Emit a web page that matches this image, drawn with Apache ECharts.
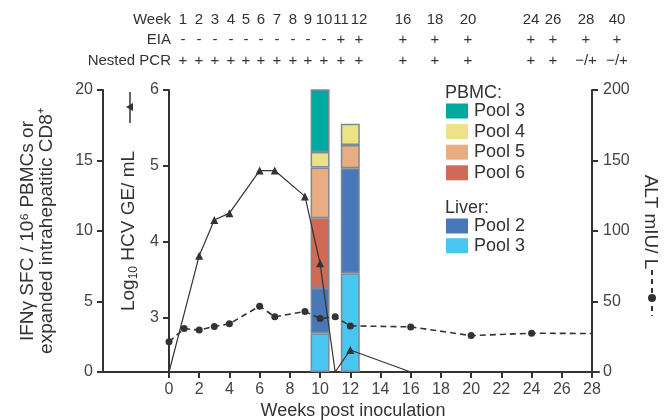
<!DOCTYPE html>
<html>
<head>
<meta charset="utf-8">
<script src="https://cdn.jsdelivr.net/npm/echarts@6/dist/echarts.min.js"></script>
<style>
  html, body { margin: 0; padding: 0; background: #fff; }
  #chart { width: 670px; height: 420px; }
</style>
</head>
<body>
<div id="chart"></div>
<script>
// table above the plot
const tableWeeks = ['1', '2', '3', '4', '5', '6', '7', '8', '9', '10', '11', '12', '16', '18', '20', '24', '26', '28', '40'];
const eiaResults = ['-', '-', '-', '-', '-', '-', '-', '-', '-', '-', '+', '+', '+', '+', '+', '+', '+', '+', '+'];
const pcrResults = ['+', '+', '+', '+', '+', '+', '+', '+', '+', '+', '+', '+', '+', '+', '+', '+', '+', '\u2212/+', '\u2212/+'];

// x axis: weeks 0..28
const weekCategories = ['0', '1', '2', '3', '4', '5', '6', '7', '8', '9', '10', '11', '12', '13', '14',
  '15', '16', '17', '18', '19', '20', '21', '22', '23', '24', '25', '26', '27', '28'];

// HCV RNA, log10 GE/mL (2.29 = axis floor, below detection)
const hcvFloor = 2.29;
const hcvWeeks = ['0', '2', '3', '4', '6', '7', '9', '10', '11', '12', '16'];
const hcvValues = [2.29, 3.82, 4.29, 4.38, 4.94, 4.94, 4.6, 3.72, 2.29, 2.58, 2.29];

// ALT mIU/L
const altWeeks = ['0', '1', '2', '3', '4', '6', '7', '9', '10', '11', '12', '16', '20', '24', '28'];
const altValues = [21.4, 30.8, 29.7, 32.3, 34.2, 46.7, 39.1, 42.9, 37.9, 39.1, 32.7, 32.0, 25.8, 27.5, 27.3];

// IFN-gamma SFC bars
const barWeeks = ['10', '12'];
const liverPool3 = [2.75, 7.0];
const liverPool2 = [3.2, 7.45];
const pbmcPool6 = [4.95, 0];
const pbmcPool5 = [3.6, 1.65];
const pbmcPool4 = [1.1, 1.5];
const pbmcPool3 = [4.6, 0];

// column positions of the table (layout only)
const colX = [183, 199, 215, 231, 246, 261, 277, 293, 308, 324, 341, 359, 403, 435, 468, 531, 553, 586, 617];

const FONT = '"Liberation Sans", Arial, sans-serif';
const DARK = '#333';
const LABEL = '#444';

const chart = echarts.init(document.getElementById('chart'));

const barSeries = [
  ['Liver Pool 3', liverPool3, '#48c6ef'],
  ['Liver Pool 2', liverPool2, '#4878b8'],
  ['PBMC Pool 6', pbmcPool6, '#cf6a57'],
  ['PBMC Pool 5', pbmcPool5, '#e8ad82'],
  ['PBMC Pool 4', pbmcPool4, '#ede287'],
  ['PBMC Pool 3', pbmcPool3, '#00a99d']
].map(([name, vals, color]) => ({
  name: name,
  type: 'bar',
  stack: 'sfc',
  xAxisIndex: 1,
  yAxisIndex: 3,
  barWidth: 19,
  z: 2,
  itemStyle: { color: color, borderColor: '#7d8a95', borderWidth: 1.5 },
  data: vals.map((v, i) => [barWeeks[i], v || null])
}));

// table texts
const tableText = [];
const rowY = [20, 40, 61];
['Week', 'EIA', 'Nested PCR'].forEach((t, r) => {
  tableText.push({
    type: 'text', x: 171, y: rowY[r],
    style: { text: t, fontSize: 15, fontFamily: FONT, fill: DARK, align: 'right', verticalAlign: 'middle' }
  });
});
[tableWeeks, eiaResults, pcrResults].forEach((row, r) => {
  row.forEach((t, i) => {
    tableText.push({
      type: 'text', x: colX[i], y: rowY[r],
      style: { text: t, fontSize: 15, fontFamily: FONT, fill: DARK, align: 'center', verticalAlign: 'middle' }
    });
  });
});

const axisLineStyle = { color: DARK, width: 2 };
const legendBase = {
  orient: 'vertical', left: 446, padding: 0,
  itemWidth: 22, itemHeight: 15, icon: 'rect',
  selectedMode: false,
  itemStyle: { borderWidth: 0 },
  formatter: n => n.replace(/^\S+ /, ''),
  textStyle: { fontSize: 18, lineHeight: 18, color: DARK, padding: [0, 0, 0, 1] }
};

const option = {
  animation: false,
  textStyle: { fontFamily: FONT },
  grid: [
    { left: 103, right: 71, top: 90, bottom: 48, outerBoundsMode: 'none' },
    { left: 169, right: 78, top: 90, bottom: 48, outerBoundsMode: 'none' }
  ],
  legend: [
    Object.assign({}, legendBase, {
      data: ['PBMC Pool 3', 'PBMC Pool 4', 'PBMC Pool 5', 'PBMC Pool 6'],
      top: 102, itemGap: 2.6
    }),
    Object.assign({}, legendBase, {
      data: ['Liver Pool 2', 'Liver Pool 3'],
      top: 217, itemGap: 1.7
    })
  ],
  xAxis: [
    {
      gridIndex: 0, type: 'value', min: 0, max: 1,
      axisLine: { onZero: false, lineStyle: axisLineStyle },
      axisTick: { show: false }, axisLabel: { show: false }, splitLine: { show: false },
      name: 'Weeks post inoculation', nameLocation: 'middle', nameGap: 30,
      nameTextStyle: { fontSize: 18, color: DARK, padding: [0, 0, 0, 4] }
    },
    {
      gridIndex: 1, type: 'category', data: weekCategories, boundaryGap: false,
      axisLine: { onZero: false, lineStyle: axisLineStyle },
      axisTick: { length: 6, interval: 1, lineStyle: { width: 2, color: DARK } },
      axisLabel: { margin: 10, interval: 1, fontSize: 16, color: LABEL },
      splitLine: { show: false }
    }
  ],
  yAxis: [
    {
      gridIndex: 0, type: 'value', min: 0, max: 20, interval: 5, position: 'left',
      axisLine: { show: true, onZero: false, lineStyle: axisLineStyle },
      axisTick: { show: true, length: 6, lineStyle: { width: 2, color: DARK } },
      axisLabel: { margin: 10, fontSize: 16, color: LABEL },
      splitLine: { show: false },
      name: 'IFN\u03b3 SFC / 10\u2076 PBMCs or\nexpanded intrahepatitic CD8\u207a',
      nameLocation: 'middle', nameGap: 47,
      nameTextStyle: { fontSize: 19, lineHeight: 19, color: DARK }
    },
    {
      gridIndex: 1, type: 'value', min: hcvFloor, max: 6, position: 'left',
      axisLine: { show: true, onZero: false, lineStyle: axisLineStyle },
      axisTick: { show: true, length: 6, lineStyle: { width: 2, color: DARK } },
      axisLabel: {
        margin: 10, fontSize: 16, color: LABEL,
        formatter: v => (Math.abs(v - Math.round(v)) < 1e-6 ? String(Math.round(v)) : '')
      },
      splitLine: { show: false },
      name: '{a|Log}{s|10}{a| HCV GE/ mL}',
      nameLocation: 'middle', nameGap: 27,
      nameTextStyle: {
        color: DARK,
        rich: {
          a: { fontSize: 19, color: DARK, fontFamily: FONT },
          s: { fontSize: 12, color: DARK, fontFamily: FONT, padding: [9, 0, 0, 0] }
        }
      }
    },
    {
      gridIndex: 1, type: 'value', min: 0, max: 200, interval: 50, position: 'right',
      axisLine: { show: true, onZero: false, lineStyle: axisLineStyle },
      axisTick: { show: true, length: 6, lineStyle: { width: 2, color: DARK } },
      axisLabel: { margin: 11, fontSize: 16, color: LABEL },
      splitLine: { show: false },
      name: 'ALT mIU/ L', nameLocation: 'middle', nameGap: 44, nameRotate: -90,
      nameTextStyle: { fontSize: 19, color: DARK, padding: [0, 18, 0, 0] }
    },
    { gridIndex: 1, type: 'value', min: 0, max: 20, show: false }
  ],
  graphic: tableText.concat([
    { type: 'text', x: 445, y: 93, style: { text: 'PBMC:', fontSize: 18, fontFamily: FONT, fill: DARK, verticalAlign: 'middle' } },
    { type: 'text', x: 445, y: 208, style: { text: 'Liver:', fontSize: 18, fontFamily: FONT, fill: DARK, verticalAlign: 'middle' } },
    { type: 'line', shape: { x1: 130, y1: 92, x2: 130, y2: 123 }, style: { stroke: DARK, lineWidth: 1.5 } },
    { type: 'polygon', shape: { points: [[126, 107], [133, 103], [133, 111]] }, style: { fill: DARK } },
    { type: 'line', shape: { x1: 652, y1: 270, x2: 652, y2: 316 }, style: { stroke: DARK, lineWidth: 2, lineDash: [5, 4] } },
    { type: 'circle', shape: { cx: 652, cy: 298, r: 4 }, style: { fill: DARK } }
  ]),
  series: barSeries.concat([
    {
      name: 'HCV',
      type: 'line',
      xAxisIndex: 1, yAxisIndex: 1,
      z: 4,
      symbol: 'triangle',
      symbolSize: v => (v[1] <= hcvFloor ? 0 : 8),
      lineStyle: { color: DARK, width: 1.2 },
      itemStyle: { color: DARK },
      data: hcvWeeks.map((w, i) => [w, hcvValues[i]])
    },
    {
      name: 'ALT',
      type: 'line',
      xAxisIndex: 1, yAxisIndex: 2,
      z: 4,
      symbol: 'circle',
      symbolSize: (v, p) => (p.dataIndex === altWeeks.length - 1 ? 0 : 7),
      lineStyle: { color: DARK, width: 1.6, type: [6, 4] },
      itemStyle: { color: DARK },
      data: altWeeks.map((w, i) => [w, altValues[i]])
    }
  ])
};

chart.setOption(option);
window.addEventListener('resize', () => chart.resize());
</script>
</body>
</html>
